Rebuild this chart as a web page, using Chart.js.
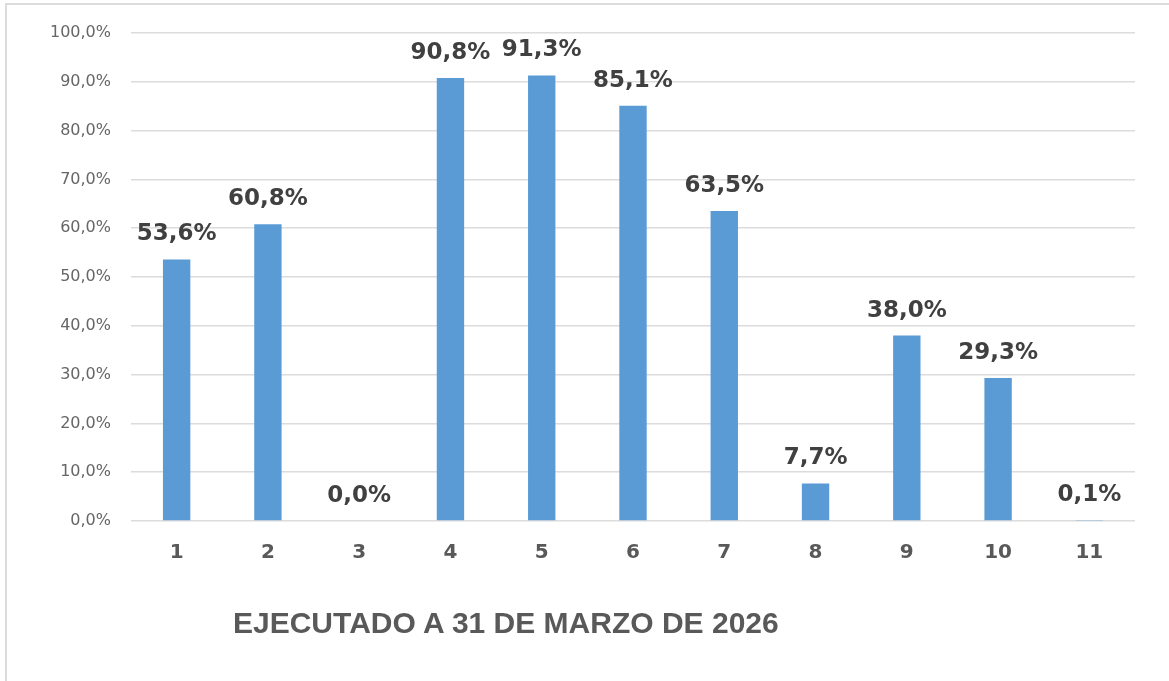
<!DOCTYPE html>
<html>
<head>
<meta charset="utf-8">
<script src="https://cdn.jsdelivr.net/npm/chart.js@4.4.1/dist/chart.umd.min.js"></script>
<style>
  html, body { margin: 0; padding: 0; background: #fff; }
  #wrap { position: relative; width: 1169px; height: 681px; overflow: hidden; }
  #frame { position: absolute; left: 5px; top: 3px; width: 1200px; height: 700px;
           border-left: 2px solid #dcdcdc; border-top: 2px solid #dcdcdc; }
  #chart { position: absolute; left: 0; top: 0; }
  #title { position: absolute; left: 233px; top: 606px; white-space: nowrap;
           font: bold 30px "Liberation Sans", Arial, sans-serif; color: #595959; }
</style>
</head>
<body>
<div id="wrap">
  <div id="frame"></div>
  <canvas id="chart" width="1169" height="681"></canvas>
  <div id="title">EJECUTADO A 31 DE MARZO DE 2026</div>
</div>
<script>
const categories = ["1", "2", "3", "4", "5", "6", "7", "8", "9", "10", "11"];
const executed = [53.6, 60.8, 0.0, 90.8, 91.3, 85.1, 63.5, 7.7, 38.0, 29.3, 0.1];
const yMin = 0;
const yMax = 100;
const yStep = 10;

const pct = (v) => v.toFixed(1).replace(".", ",") + "%";

// draws the "53,6%" labels above each bar
const valueLabels = {
  id: "valueLabels",
  afterDatasetsDraw(chart) {
    const ctx = chart.ctx;
    const meta = chart.getDatasetMeta(0);
    ctx.save();
    ctx.font = 'bold 23px "DejaVu Sans", sans-serif';
    ctx.fillStyle = "#404040";
    ctx.textAlign = "center";
    ctx.textBaseline = "middle";
    meta.data.forEach((bar, i) => {
      ctx.fillText(pct(executed[i]), bar.x, bar.y - 25);
    });
    ctx.restore();
  },
};

new Chart(document.getElementById("chart"), {
  type: "bar",
  data: {
    labels: categories,
    datasets: [
      {
        data: executed,
        backgroundColor: "#5b9bd5",
        barPercentage: 0.3,
        categoryPercentage: 1,
      },
    ],
  },
  options: {
    responsive: false,
    animation: false,
    layout: { padding: { top: 33, right: 34, left: 0, bottom: 0 } },
    plugins: { legend: { display: false }, tooltip: { enabled: false } },
    scales: {
      y: {
        min: yMin,
        max: yMax,
        afterFit: (s) => { s.width = 131; },
        border: { display: false },
        grid: { color: "#dcdcdc", lineWidth: 1.5, drawTicks: false },
        ticks: {
          stepSize: yStep,
          padding: 20,
          color: "#666666",
          font: { family: "DejaVu Sans", size: 16 },
          callback: (v) => pct(v),
        },
      },
      x: {
        afterFit: (s) => { s.height = 160; },
        border: { display: false },
        grid: { display: false },
        ticks: {
          padding: 12,
          color: "#595959",
          font: { family: "DejaVu Sans", size: 20, weight: "bold" },
        },
      },
    },
  },
  plugins: [valueLabels],
});
</script>
</body>
</html>
